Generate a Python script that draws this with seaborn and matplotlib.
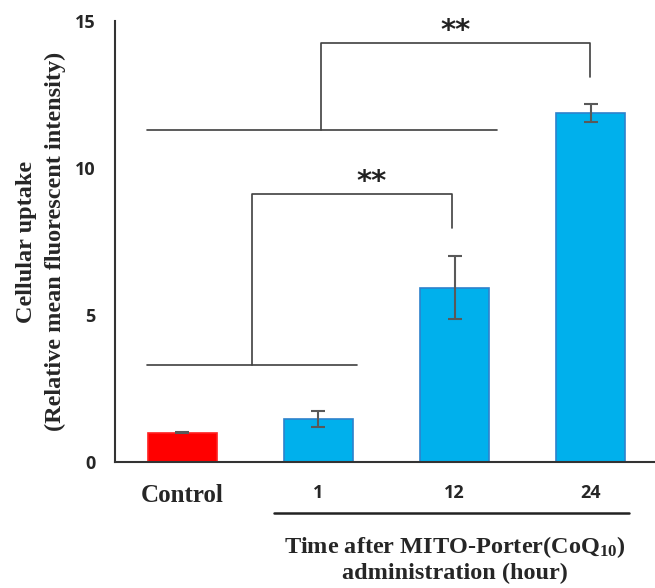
import seaborn as sns
import pandas as pd
import matplotlib.pyplot as plt

# values
groups = ['Control', '1', '12', '24']
uptake = [1.0, 1.46, 5.93, 11.86]
sd = [0.02, 0.27, 1.07, 0.30]
kind = ['control', 'mito', 'mito', 'mito']
palette = {'control': '#FF0000', 'mito': '#00B0EC'}

df = pd.DataFrame({'group': groups, 'uptake': uptake, 'kind': kind})

sns.set_style('white')
plt.rcParams['mathtext.fontset'] = 'custom'
plt.rcParams['mathtext.rm'] = 'Liberation Serif:bold'
plt.rcParams['mathtext.default'] = 'rm'

fig = plt.figure(figsize=(6.55, 5.88), dpi=100)
ax = fig.add_axes([0.1756, 0.2143, 0.8244, 0.75])

sns.barplot(data=df, x='group', y='uptake', hue='kind', palette=palette, dodge=False,
            width=0.51, errorbar=None, legend=False, ax=ax, linewidth=1.2, saturation=1)
for p, k in zip(ax.patches, kind):
    p.set_edgecolor('#FF2020' if k == 'control' else '#2D82CC')

ax.errorbar(range(len(groups)), uptake, yerr=sd, fmt='none', ecolor='#595959',
            elinewidth=1.5, capsize=5, capthick=1.5)

ax.set_xlim(-0.496, 3.474)
ax.set_ylim(0, 15)
ax.set_yticks([0, 5, 10, 15])
ax.set_xlabel('')
ax.set_ylabel('Cellular uptake\n(Relative mean fluorescent intensity)',
              fontfamily='Liberation Serif', fontweight='bold', fontsize=17.5, linespacing=1.45)
ax.yaxis.set_label_coords(-0.091, 0.5)

for s in ['top', 'right']:
    ax.spines[s].set_visible(False)
for s in ['left', 'bottom']:
    ax.spines[s].set_color('#333333')
    ax.spines[s].set_linewidth(1.5)

ax.tick_params(axis='y', direction='out', length=5, width=1.5, color='#333333', pad=9)
ax.tick_params(axis='x', length=0, pad=16)
for t in ax.get_yticklabels():
    t.set_fontfamily('Open Sans')
    t.set_fontweight('bold')
    t.set_fontsize(13)
for t in ax.get_xticklabels():
    if t.get_text() == 'Control':
        t.set_fontfamily('Liberation Serif')
        t.set_fontsize(18)
    else:
        t.set_fontfamily('Open Sans')
        t.set_fontsize(13)
    t.set_fontweight('bold')

# significance brackets
lc = '#404040'
ax.plot([-0.263, 1.283], [3.29, 3.29], color=lc, lw=1.2)
ax.plot([0.513, 0.513, 1.98, 1.98], [3.29, 9.1, 9.1, 7.97], color=lc, lw=1.2)
ax.text(1.39, 9.05, '**', ha='center', va='bottom', fontsize=21, fontweight='bold', color='#222222')

ax.plot([-0.263, 2.31], [11.3, 11.3], color=lc, lw=1.2)
ax.plot([1.02, 1.02, 2.995, 2.995], [11.3, 14.24, 14.24, 13.1], color=lc, lw=1.2, clip_on=False)
ax.text(2.01, 14.2, '**', ha='center', va='bottom', fontsize=21, fontweight='bold', color='#222222')

# group line and caption under the time points
ax.plot([0.673, 3.28], [-1.73, -1.73], color='#222222', lw=1.8, clip_on=False)
ax.text(2.0, -2.45, 'Time after MITO-Porter(CoQ$_{10}$)\nadministration (hour)',
        ha='center', va='top', fontfamily='Liberation Serif', fontweight='bold',
        fontsize=17.5, linespacing=1.2)

fig.savefig('out.png', dpi=100)
